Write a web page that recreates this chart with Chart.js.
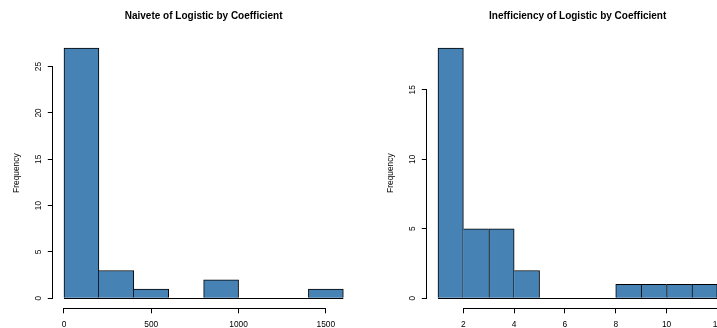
<!DOCTYPE html>
<html>
<head>
<meta charset="utf-8">
<script src="https://cdn.jsdelivr.net/npm/chart.js@4"></script>
<style>
  html, body { margin: 0; padding: 0; background: #fff; overflow: hidden; }
  #wrap { position: relative; width: 717px; height: 328px; overflow: hidden; }
  canvas { position: absolute; top: 0; }
</style>
</head>
<body>
<div id="wrap">
  <canvas id="chart-naive" width="374" height="328" style="left:0"></canvas>
  <canvas id="chart-ineff" width="374" height="328" style="left:374px"></canvas>
</div>
<script>
  /* ===================== DATA ===================== */

  const naiveBreaks = [0, 200, 400, 600, 800, 1000, 1200, 1400, 1600];
  const naiveCounts = [27, 3, 1, 0, 2, 0, 0, 1];
  const naiveXTicks = [0, 500, 1000, 1500];
  const naiveYTicks = [0, 5, 10, 15, 20, 25];

  const ineffBreaks = [1, 2, 3, 4, 5, 6, 7, 8, 9, 10, 11, 12];
  const ineffCounts = [18, 5, 5, 2, 0, 0, 0, 1, 1, 1, 1];
  const ineffXTicks = [2, 4, 6, 8, 10, 12];
  const ineffYTicks = [0, 5, 10, 15];

  const FONT = "'Liberation Sans', Arial, Helvetica, sans-serif";

  /* ============ R style axis lines + baseline ============ */

  let align = v => Math.round(v - 0.5) + 0.5;

  let rAxes = (breaks, xTicks, yTicks) => ({
    id: 'rAxes',
    afterDraw(chart) {
      let { ctx, chartArea, scales: { x, y } } = chart;
      ctx.save();
      ctx.strokeStyle = '#000';
      ctx.lineWidth = 1;
      ctx.beginPath();

      // baseline under all bins (zero bins too)
      let y0 = align(y.getPixelForValue(0));
      ctx.moveTo(x.getPixelForValue(breaks[0]), y0);
      ctx.lineTo(x.getPixelForValue(breaks[breaks.length - 1]), y0);

      // x axis from first to last tick
      let xb = align(chartArea.bottom);
      ctx.moveTo(align(x.getPixelForValue(xTicks[0])) - 0.5, xb);
      ctx.lineTo(align(x.getPixelForValue(xTicks[xTicks.length - 1])) + 0.5, xb);

      // y axis from first to last tick
      let yl = align(chartArea.left);
      ctx.moveTo(yl, align(y.getPixelForValue(yTicks[0])) + 0.5);
      ctx.lineTo(yl, align(y.getPixelForValue(yTicks[yTicks.length - 1])) - 0.5);

      ctx.stroke();
      ctx.restore();
    }
  });

  /* ===================== HISTOGRAM ===================== */

  let histogram = (canvasId, { title, breaks, counts, xTicks, yTicks }) => {
    let span = breaks[breaks.length - 1] - breaks[0];
    let ymax = Math.max(...counts);
    let last = counts.length - 1;

    // shared edges drawn once, by the taller bar
    let edges = ctx => {
      let i = ctx.dataIndex;
      let h = counts[i];
      return {
        top: 1,
        bottom: 0,
        left: (i == 0 || h >= counts[i - 1]) ? 1 : 0,
        right: (i == last || h > counts[i + 1]) ? 1 : 0
      };
    };

    let tickMarks = { offset: false, drawOnChartArea: false, drawTicks: true, tickLength: 5, color: '#000', tickColor: '#000' };

    return new Chart(document.getElementById(canvasId), {
      type: 'bar',
      data: {
        datasets: [{
          data: counts.map((c, i) => ({ x: (breaks[i] + breaks[i + 1]) / 2, y: c })),
          backgroundColor: '#4682B4',
          borderColor: '#000',
          borderWidth: edges,
          barPercentage: 1,
          categoryPercentage: 1
        }]
      },
      options: {
        responsive: false,
        animation: false,
        devicePixelRatio: 1,
        layout: { padding: { left: 0, right: 19.5, top: 0, bottom: 0 } },
        plugins: {
          legend: { display: false },
          tooltip: { enabled: false },
          title: {
            display: true,
            fullSize: false,
            text: title,
            color: '#000',
            font: { family: FONT, size: 10, weight: 'bold' },
            padding: { top: 10.5, bottom: 15.5 }
          }
        },
        scales: {
          x: {
            type: 'linear',
            offset: false,
            min: breaks[0] - span * 0.04,
            max: breaks[breaks.length - 1] + span * 0.04,
            afterBuildTicks: s => { s.ticks = xTicks.map(value => ({ value })) },
            afterFit: s => { s.height = 19.7 },
            grid: tickMarks,
            border: { display: false },
            ticks: {
              color: '#000',
              font: { family: FONT, size: 8.4 },
              padding: 6,
              maxRotation: 0,
              autoSkip: false,
              callback: v => String(v)
            }
          },
          y: {
            type: 'linear',
            min: -ymax * 0.04,
            max: ymax * 1.04,
            afterBuildTicks: s => { s.ticks = yTicks.map(value => ({ value })) },
            afterFit: s => { s.width = 52.8 },
            grid: tickMarks,
            border: { display: false },
            ticks: {
              color: '#000',
              font: { family: FONT, size: 8.4 },
              padding: 4,
              minRotation: 90,
              maxRotation: 90,
              crossAlign: 'center',
              autoSkip: false,
              callback: v => String(v)
            },
            title: {
              display: true,
              text: 'Frequency',
              color: '#000',
              font: { family: FONT, size: 8.4 },
              padding: { top: 12, bottom: 0 }
            }
          }
        }
      },
      plugins: [rAxes(breaks, xTicks, yTicks)]
    });
  };

  /* ===================== INIT ===================== */

  histogram('chart-naive', {
    title: 'Naivete of Logistic by Coefficient',
    breaks: naiveBreaks, counts: naiveCounts, xTicks: naiveXTicks, yTicks: naiveYTicks
  });

  histogram('chart-ineff', {
    title: 'Inefficiency of Logistic by Coefficient',
    breaks: ineffBreaks, counts: ineffCounts, xTicks: ineffXTicks, yTicks: ineffYTicks
  });
</script>
</body>
</html>
